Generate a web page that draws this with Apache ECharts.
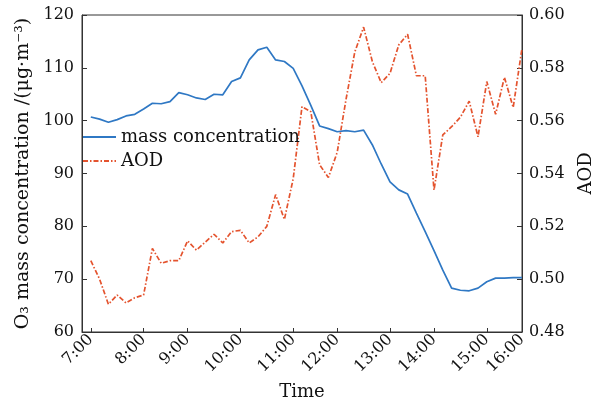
<!DOCTYPE html>
<html>
<head>
<meta charset="utf-8">
<title>O3 mass concentration and AOD</title>
<script src="https://cdn.jsdelivr.net/npm/echarts@6/dist/echarts.min.js"></script>
<style>
  html, body { margin: 0; padding: 0; background: #fff; }
  #chart { width: 594px; height: 402px; }
</style>
</head>
<body>
<div id="chart"></div>
<script>
// Hour tick labels and the sample index each one sits on
const hourLabels = ['7:00', '8:00', '9:00', '10:00', '11:00', '12:00', '13:00', '14:00', '15:00', '16:00'];
const hourIndex = [0, 6, 11, 17, 23, 28, 34, 39, 45, 49];

// O3 mass concentration (μg·m^-3), one value per sample
const o3Mass = [
  100.7, 100.3, 99.7, 100.2, 100.9, 101.2, 102.2, 103.3, 103.2, 103.6,
  105.3, 104.9, 104.3, 104.0, 105.0, 104.9, 107.4, 108.1, 111.5, 113.4,
  113.9, 111.5, 111.2, 109.9, 106.6, 102.9, 99.0, 98.5, 97.9, 98.1,
  97.9, 98.2, 95.4, 91.8, 88.4, 86.9, 86.1, 82.5, 79.0, 75.4,
  71.7, 68.3, 67.9, 67.8, 68.3, 69.5, 70.2, 70.2, 70.3, 70.3
];

// Aerosol optical depth, one value per sample
const aod = [
  0.507, 0.500, 0.4905, 0.494, 0.491, 0.493, 0.494, 0.5116, 0.506, 0.507,
  0.507, 0.5145, 0.511, 0.514, 0.517, 0.5137, 0.518, 0.5185, 0.5137, 0.516,
  0.520, 0.532, 0.5226, 0.538, 0.5653, 0.5634, 0.5433, 0.5385, 0.548, 0.568,
  0.586, 0.5954, 0.5823, 0.5744, 0.5779, 0.5887, 0.5927, 0.577, 0.577, 0.5337,
  0.5546, 0.5577, 0.5613, 0.5674, 0.5539, 0.5748, 0.5624, 0.5764, 0.565, 0.5874
];

const FONT = 'DejaVu Serif';
const AXIS_COLOR = '#333';

const toPairs = arr => arr.map((v, i) => [i, v]);
const labelAt = {};
hourIndex.forEach((idx, k) => { labelAt[idx] = hourLabels[k]; });

const chart = echarts.init(document.getElementById('chart'), null, { renderer: 'canvas' });

chart.setOption({
  backgroundColor: '#fff',
  animation: false,
  textStyle: { fontFamily: FONT },
  grid: {
    left: 82, right: 72, top: 15, bottom: 70,
    containLabel: false,
    outerBoundsMode: 'none',
    show: true,
    borderColor: AXIS_COLOR,
    borderWidth: 1
  },
  legend: {
    orient: 'vertical',
    left: 82,
    top: 127,
    padding: 0,
    itemWidth: 33,
    itemHeight: 14,
    itemGap: 4,
    itemStyle: { opacity: 0 },
    textStyle: { fontFamily: FONT, fontSize: 18, color: '#111', lineHeight: 20 },
    data: ['mass concentration', 'AOD']
  },
  xAxis: {
    type: 'value',
    min: -1,
    max: 49,
    name: 'Time',
    nameLocation: 'middle',
    nameGap: 51,
    nameTextStyle: { fontFamily: FONT, fontSize: 18, color: '#111' },
    axisLine: { onZero: false, lineStyle: { color: AXIS_COLOR, width: 1 } },
    axisTick: { inside: true, length: 4, customValues: hourIndex, lineStyle: { color: AXIS_COLOR } },
    axisLabel: {
      customValues: hourIndex,
      rotate: 45,
      margin: 5,
      fontFamily: FONT,
      fontSize: 16,
      color: '#111',
      formatter: v => labelAt[v] || ''
    },
    splitLine: { show: false }
  },
  yAxis: [
    {
      type: 'value',
      min: 60,
      max: 120,
      interval: 10,
      position: 'left',
      name: 'O\u2083 mass concentration /(\u03bcg\u00b7m\u207b\u00b3)',
      nameLocation: 'middle',
      nameGap: 43,
      nameRotate: 90,
      nameTextStyle: { fontFamily: FONT, fontSize: 19, color: '#111' },
      axisLine: { show: true, onZero: false, lineStyle: { color: AXIS_COLOR, width: 1 } },
      axisTick: { show: true, inside: true, length: 5, lineStyle: { color: AXIS_COLOR } },
      axisLabel: { fontFamily: FONT, fontSize: 16, color: '#111', margin: 8 },
      splitLine: { show: false }
    },
    {
      type: 'value',
      min: 0.48,
      max: 0.60,
      interval: 0.02,
      position: 'right',
      name: 'AOD',
      nameLocation: 'middle',
      nameGap: 55,
      nameRotate: 90,
      nameTextStyle: { fontFamily: FONT, fontSize: 18, color: '#111' },
      axisLine: { show: true, onZero: false, lineStyle: { color: AXIS_COLOR, width: 1 } },
      axisTick: { show: true, inside: true, length: 5, lineStyle: { color: AXIS_COLOR } },
      axisLabel: { fontFamily: FONT, fontSize: 16, color: '#111', margin: 7, formatter: v => v.toFixed(2) },
      splitLine: { show: false }
    }
  ],
  series: [
    {
      name: 'mass concentration',
      type: 'line',
      yAxisIndex: 0,
      data: toPairs(o3Mass),
      symbol: 'none',
      lineStyle: { color: '#2f78c4', width: 1.7 },
      itemStyle: { color: '#2f78c4' },
      z: 3
    },
    {
      name: 'AOD',
      type: 'line',
      yAxisIndex: 1,
      data: toPairs(aod),
      symbol: 'none',
      lineStyle: { color: '#e4532e', width: 1.7, type: [5, 2, 1.5, 2] },
      itemStyle: { color: '#e4532e' },
      z: 2
    }
  ]
});
</script>
</body>
</html>
